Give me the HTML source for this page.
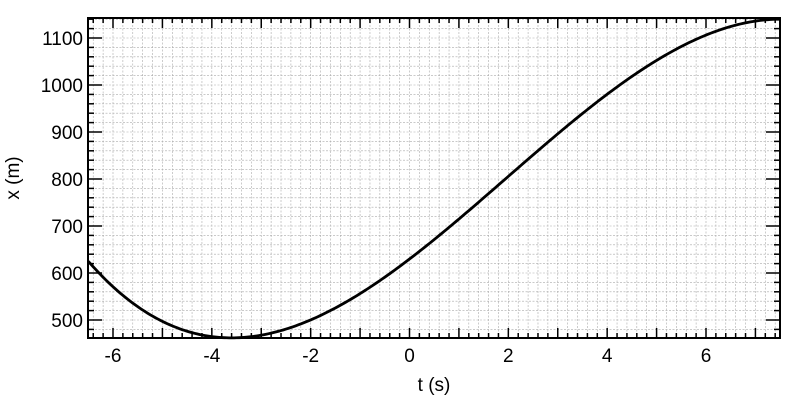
<!DOCTYPE html>
<html><head><style>
html,body{margin:0;padding:0;background:#fff;width:800px;height:400px;overflow:hidden}
svg text{font-family:"Liberation Sans",Arial,sans-serif;font-size:19px;fill:#000}
</style></head><body>
<svg id="s" width="800" height="400" xmlns="http://www.w3.org/2000/svg"></svg>
<script>
const L=88,R=780,T=18,B=338;
const X=t=>113+(t+6)*593/12;
const Y=v=>38+(1100-v)*0.47;
let h='';
for(let i=-33;i<=38;i++){const t=i*0.2,x=X(t);if(x>L+0.5&&x<R-0.5)h+=`<line x1="${x}" y1="${T}" x2="${x}" y2="${B}" stroke="#aaa" stroke-width="0.6" stroke-dasharray="2,1.5"/>`;}
for(let v=460;v<=1160;v+=20){const y=Y(v);if(y>T+0.5&&y<B-0.5)h+=`<line x1="${L}" y1="${y}" x2="${R}" y2="${y}" stroke="#aaa" stroke-width="0.6" stroke-dasharray="2,1.5"/>`;}
for(let i=-33;i<=38;i++){const t=i*0.2,x=X(t);if(x<L||x>R)continue;const maj=Math.abs(t-Math.round(t))<1e-6;const len=maj?10:5;
h+=`<line x1="${x}" y1="${B}" x2="${x}" y2="${B-len}" stroke="#000" stroke-width="1.5"/><line x1="${x}" y1="${T}" x2="${x}" y2="${T+len}" stroke="#000" stroke-width="1.5"/>`;
if(maj&&Math.round(t)%2==0)h+=`<text x="${x}" y="${B+24}" text-anchor="middle">${Math.round(t)}</text>`;}
for(let v=460;v<=1160;v+=20){const y=Y(v);if(y<T||y>B)continue;const maj=v%100==0;const len=maj?14:6;
h+=`<line x1="${L}" y1="${y}" x2="${L+len}" y2="${y}" stroke="#000" stroke-width="1.5"/><line x1="${R}" y1="${y}" x2="${R-len}" y2="${y}" stroke="#000" stroke-width="1.5"/>`;
if(maj)h+=`<text x="${L-5}" y="${y+7}" text-anchor="end">${v}</text>`;}
const a=-3.6,b=7.5,K=678/Math.pow(b-a,3)*6;
const F=t=>{const u=t-a;return (b-a)*u*u/2-u*u*u/3;};
let p='';for(let t=-6.5;t<=7.5001;t+=0.05){p+=(p?'L':'M')+X(t).toFixed(2)+','+Y(462+K*F(t)).toFixed(2);}
h+=`<path d="${p}" fill="none" stroke="#000" stroke-width="2.8"/>`;
h+=`<rect x="${L}" y="${T}" width="${R-L}" height="${B-T}" fill="none" stroke="#000" stroke-width="2"/>`;
h+=`<text x="434" y="391" text-anchor="middle">t (s)</text>`;
h+=`<text transform="translate(19,178) rotate(-90)" text-anchor="middle">x (m)</text>`;
document.getElementById('s').innerHTML=h;
</script>
</body></html>
